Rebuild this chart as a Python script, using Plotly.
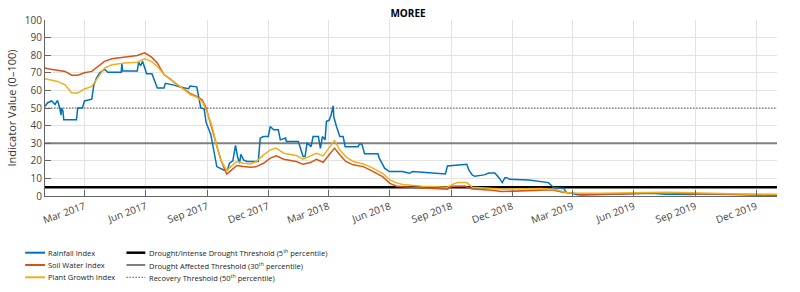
import pandas as pd
import plotly.graph_objects as go

START = "2017-01-01"
END = "2020-01-01"

# ---- data: days since 2017-01-01 and index values (0-100) ----
RAIN_DAYS = [0, 4, 10, 15, 18, 19, 22, 24, 25, 27, 28, 47, 49, 56, 59, 70, 73, 77, 82, 89, 94,
             114, 115, 116, 138, 140, 143, 146, 149, 152, 160, 163, 168, 178, 180, 193, 201, 215,
             217, 227, 230, 233, 238, 241, 248, 253, 257, 267, 273, 276, 281, 285, 288, 291, 293,
             297, 302, 319, 322, 327, 334, 337, 342, 349, 352, 360, 361, 379, 382, 386, 389, 392,
             397, 398, 401, 409, 412, 415, 419, 421, 425, 428, 431, 432, 436, 441, 446, 449, 468,
             471, 474, 478, 498, 500, 508, 515, 535, 545, 550, 599, 602, 621, 631, 634, 639, 643,
             657, 664, 673, 679, 684, 688, 691, 695, 718, 724, 753, 761, 776, 780, 788, 795, 802,
             832, 862, 884, 906, 929, 966, 981, 1025, 1055, 1077, 1095]
RAIN_VALS = [51, 53, 54, 52, 54, 54, 50, 46, 50, 48, 43.3, 43.3, 50, 50, 54, 55, 63, 67, 70, 72, 70.3,
             70.3, 75.6, 71, 71, 76, 74, 76.5, 73, 69.5, 69.5, 66, 61.3, 61.3, 64, 63, 62, 61,
             62.5, 62, 56, 50, 49.5, 41.8, 35, 24, 16.7, 14.8, 14.8, 18.6, 20, 28.7, 22.4, 18.6, 23.7,
             20.5, 19.6, 19.6, 32.9, 33.8, 33.8, 39.5, 37.6, 37.6, 31.9, 32.9, 31, 31, 27, 22.4, 22.4, 30,
             28.5, 28, 33.8, 33.8, 27, 33.8, 32, 42.4, 43, 46, 51.3, 45, 39.5, 33.8, 33.8, 28, 28,
             29.6, 29.6, 24, 24, 21.5, 15.8, 13.9, 13.9, 12.9, 13.9, 12.5, 17.1, 17.7, 18, 14.8, 12, 11.2,
             12, 13, 13, 10.4, 7.6, 10.4, 10.4, 9.5, 9.5, 9.1, 7.6, 4.8, 4.3, 2, 1.7, 0.8, 0.5,
             0.8, 1.0, 1.2, 1.5, 1.0, 0.8, 1.3, 0.8, 0.5, 0.3, 0.3]

SOIL_DAYS = [0, 4, 30, 40, 49, 59, 70, 79, 89, 100, 119, 129, 138, 149, 159, 168, 178, 189, 198, 208,
             218, 227, 235, 241, 248, 256, 263, 270, 272, 278, 287, 297, 308, 316, 327, 337, 346, 357,
             367, 376, 386, 397, 406, 416, 423, 433, 441, 450, 461, 476, 486, 495, 505, 516, 525, 535,
             564, 602, 609, 617, 628, 639, 654, 669, 683, 728, 758, 773, 787, 802, 862, 891, 921, 966,
             995, 1040, 1095]
SOIL_VALS = [72.7, 72.3, 70.8, 68.6, 68.6, 70, 70.8, 73.7, 76.5, 78, 79, 79.4, 79.8, 81.3, 79, 75.6, 69,
             66, 63.2, 60.8, 58.1, 56.6, 54.7, 50, 40.5, 30, 20.5, 13.9, 12.5, 14.4, 17.3, 16.7, 16.3,
             16.7, 18.6, 21.5, 22.8, 20.9, 20.1, 19.6, 18, 19, 20.9, 19.2, 22.4, 27.2, 23.4, 19.6, 17.7,
             16.7, 14.8, 12.9, 11, 7.2, 5.7, 5.3, 4.5, 3.8, 5.5, 5.7, 5.7, 4.0, 3.8, 3.2, 2.5, 3.0, 3.5,
             2.3, 1.5, 1.0, 1.2, 1.5, 1.8, 1.3, 1.2, 0.8, 0.8]

PLANT_DAYS = [0, 19, 30, 40, 49, 59, 70, 79, 89, 100, 119, 138, 149, 159, 168, 178, 189, 198, 208, 218,
              227, 235, 242, 250, 257, 264, 272, 278, 287, 297, 308, 316, 327, 337, 346, 357, 367, 376,
              386, 397, 406, 416, 423, 433, 441, 450, 461, 476, 486, 495, 505, 516, 525, 535, 564, 602,
              609, 617, 631, 639, 654, 683, 743, 765, 780, 795, 832, 891, 929, 966, 1010, 1055, 1095]
PLANT_VALS = [66.7, 65.1, 63.2, 58.5, 58.5, 60.8, 62.3, 67, 72.7, 74.6, 75.6, 76, 78, 76.5, 73.7, 69, 66,
              63.2, 60.4, 57.5, 56.2, 53.7, 48, 39.5, 28, 19.6, 14.4, 16.7, 19.6, 18.6, 18.2, 19.6, 23.4,
              26.2, 27.2, 24.3, 23.4, 23, 20.9, 22.8, 24.3, 22.8, 26.2, 31.5, 26.2, 22.4, 19.6, 18.2,
              16.7, 14.8, 12.9, 9.1, 7.6, 6.5, 5.5, 5.0, 6.5, 7.6, 7.6, 5, 4.8, 4.0, 4.2, 3.5, 2, 1.5,
              1.6, 2.0, 2.1, 1.8, 1.3, 1.0, 0.8]

THRESH_NAMES = ["Drought/Intense Drought Threshold (5<sup>th</sup> percentile)",
                "Drought Affected Threshold (30<sup>th</sup> percentile)",
                "Recovery Threshold (50<sup>th</sup> percentile)"]
THRESH_VALS = [5, 30, 50]
INDEX_NAMES = ["Rainfall Index", "Soil Water Index", "Plant Growth Index"]

X_TICKS = ["2017-03-01", "2017-06-01", "2017-09-01", "2017-12-01", "2018-03-01", "2018-06-01",
           "2018-09-01", "2018-12-01", "2019-03-01", "2019-06-01", "2019-09-01", "2019-12-01"]
X_TICK_TEXT = ["Mar 2017", "Jun 2017", "Sep 2017", "Dec 2017", "Mar 2018", "Jun 2018",
               "Sep 2018", "Dec 2018", "Mar 2019", "Jun 2019", "Sep 2019", "Dec 2019"]
Y_TICKS = list(range(0, 101, 10))

# ---- styles ----
IDX_COLORS = ["#0072BD", "#D95319", "#EDB120"]
TH_STYLES = [dict(color="#000000", width=2.5, dash="solid"),
             dict(color="#808080", width=2, dash="solid"),
             dict(color="#555555", width=1, dash="1.5px,1.5px")]
FONT = "Open Sans, Liberation Sans, sans-serif"

base = pd.Timestamp(START)


def to_dates(days):
    return base + pd.to_timedelta(days, unit="D")


fig = go.Figure()
# thresholds first (behind the indices)
for name, val, st in zip(THRESH_NAMES, THRESH_VALS, TH_STYLES):
    fig.add_trace(go.Scatter(x=[START, END], y=[val, val], mode="lines", name=name,
                             line=st, showlegend=False, hoverinfo="skip"))

series = [(RAIN_DAYS, RAIN_VALS), (SOIL_DAYS, SOIL_VALS), (PLANT_DAYS, PLANT_VALS)]
for i in [0, 1, 2]:
    d, v = series[i]
    fig.add_trace(go.Scatter(x=to_dates(d), y=v, mode="lines", name=INDEX_NAMES[i],
                             line=dict(color=IDX_COLORS[i], width=1.5), showlegend=False))

W, H = 800, 292
ML, MR, MT, MB = 40, 23, 20, 96
PW, PH = W - ML - MR, H - MT - MB


def px2x(px):
    return (px - ML) / PW


def py2y(py):
    return (H - MB - py) / PH


shapes = []
annotations = []
rows = [252.7, 265.0, 277.3]
col1 = (20, 40, 41)
col2 = (122, 141, 143)
for r, py in enumerate(rows):
    shapes.append(dict(type="line", xref="paper", yref="paper",
                       x0=px2x(col1[0]), x1=px2x(col1[1]), y0=py2y(py), y1=py2y(py),
                       line=dict(color=IDX_COLORS[r], width=2)))
    annotations.append(dict(xref="paper", yref="paper", x=px2x(col1[2]), y=py2y(py),
                            text=INDEX_NAMES[r], showarrow=False, xanchor="left", yanchor="middle",
                            font=dict(size=7.5, color="#222222", family=FONT)))
    st = dict(TH_STYLES[r])
    shapes.append(dict(type="line", xref="paper", yref="paper",
                       x0=px2x(col2[0]), x1=px2x(col2[1]), y0=py2y(py), y1=py2y(py),
                       line=st))
    annotations.append(dict(xref="paper", yref="paper", x=px2x(col2[2]), y=py2y(py),
                            text=THRESH_NAMES[r], showarrow=False, xanchor="left", yanchor="middle",
                            font=dict(size=7.5, color="#222222", family=FONT)))

fig.update_layout(
    width=W, height=H,
    margin=dict(l=ML, r=MR, t=MT, b=MB),
    paper_bgcolor="white", plot_bgcolor="white",
    title=dict(text="<b>MOREE</b>", x=(408) / W, xanchor="center",
               y=1 - 13 / H, yanchor="middle",
               font=dict(size=10, color="#000000", family=FONT)),
    font=dict(family=FONT, color="#444444"),
    shapes=shapes, annotations=annotations,
    showlegend=False,
)
fig.update_xaxes(range=[START, END], tickvals=X_TICKS, ticktext=X_TICK_TEXT, tickangle=-20,
                 showgrid=True, gridcolor="#e3e3e3", gridwidth=1,
                 showline=True, linecolor="#666666", linewidth=1,
                 ticks="inside", ticklen=6, tickcolor="#666666",
                 tickfont=dict(size=10, color="#444444", family=FONT), zeroline=False)
fig.update_yaxes(range=[0, 100], tickvals=Y_TICKS, showgrid=True, gridcolor="#e3e3e3", gridwidth=1,
                 showline=True, linecolor="#666666", linewidth=1,
                 ticks="inside", ticklen=6, tickcolor="#666666",
                 tickfont=dict(size=10, color="#444444", family=FONT), zeroline=False,
                 title=dict(text="Indicator Value (0\u2013100)", standoff=5,
                            font=dict(size=11, color="#333333", family=FONT)))

fig.write_html("out.html")
